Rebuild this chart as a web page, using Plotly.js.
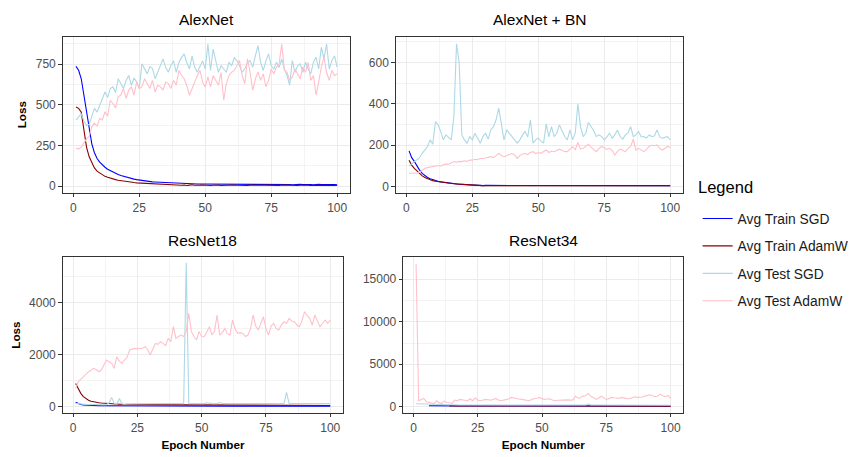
<!DOCTYPE html>
<html><head><meta charset="utf-8">
<script src="https://cdn.plot.ly/plotly-3.0.1.min.js"></script>
<style>html,body{margin:0;padding:0;background:#fff}#chart{width:854px;height:457px}</style>
</head><body><div id="chart"></div>
<script>
const epochs = [1,2,3,4,5,6,7,8,9,10,11,12,13,14,15,16,17,18,19,20,
21,22,23,24,25,26,27,28,29,30,31,32,33,34,35,36,37,38,39,40,
41,42,43,44,45,46,47,48,49,50,51,52,53,54,55,56,57,58,59,60,
61,62,63,64,65,66,67,68,69,70,71,72,73,74,75,76,77,78,79,80,
81,82,83,84,85,86,87,88,89,90,91,92,93,94,95,96,97,98,99,100];

const panelTitles = ["AlexNet", "AlexNet + BN", "ResNet18", "ResNet34"];
const seriesNames = ["Avg Train SGD", "Avg Train AdamW", "Avg Test SGD", "Avg Test AdamW"];
const legendTitle = "Legend";

// AlexNet
const alexTrainSGD = [736,712,660,560,440,340,260,205,170,148,
130,116,104,95,86,78,71,65,60,55,
51,47,43,40,37,34,32,30,28,26,
25,24,23,22,21,20,19,18,18,17,
16,16,15,15,14,14,13,13,13,12,
12,11,12,10,11,12,10,9,11,10,
12,10,9,11,10,9,10,12,11,9,
10,11,9,10,12,13,11,10,9,10,
11,9,8,10,12,11,9,10,11,9,
8,10,11,9,10,11,9,10,9,8];
const alexTrainAdamW = [486,478,455,340,240,180,140,112,92,80,
70,60,54,48,44,40,36,33,30,28,
26,24,22,20,19,18,16,15,14,13,
13,12,11,11,10,10,9,9,8,6,
5,7,4,6,8,5,4,6,7,5,
6,4,5,7,6,4,5,6,4,5,
7,5,4,6,5,4,6,5,7,6,
4,5,6,5,4,6,5,4,7,6,
5,4,6,5,4,5,6,4,5,4,
5,6,4,5,4,6,5,4,5,4];
const alexTestSGD = [406,427,445,400,372,380,430,478,455,500,
540,579,545,600,610,575,660,630,600,650,
680,620,665,640,600,752,720,690,735,722,
660,700,740,782,730,700,742,770,700,760,
790,813,760,720,800,732,700,740,770,720,
874,711,843,770,700,740,721,700,762,740,
790,772,740,700,721,760,772,730,800,864,
760,711,770,813,740,720,762,730,780,721,
680,620,772,700,740,752,700,762,720,691,
760,793,720,854,782,874,720,772,800,732];
const alexTestAdamW = [234,228,240,264,290,305,366,386,370,417,
407,457,430,528,508,480,549,560,600,540,
589,610,560,640,600,610,660,630,600,650,
579,620,610,590,640,630,600,650,620,711,
680,660,620,559,600,650,680,711,640,610,
671,610,680,650,620,700,528,630,680,700,
711,740,772,680,630,782,700,589,660,700,
650,690,610,650,720,691,730,752,874,711,
700,650,670,720,691,660,732,700,760,650,
680,559,640,732,793,700,650,711,680,691];

// AlexNet + BN
const bnTrainSGD = [173,140,122,100,80,64,52,44,38,33,
29,26,23,21,20,19,18,14,13,12,
11,10,10,9,9,6,6,6,5,6,
6,5,6,6,5,6,5,6,6,5,
5,6,6,5,6,5,6,5,6,6,
6,5,6,6,5,6,5,6,6,5,
5,6,6,5,6,5,6,5,6,6,
6,5,6,6,5,6,5,6,6,5,
5,6,6,5,6,5,6,5,6,6,
6,5,6,6,5,6,5,6,6,5];
const bnTrainAdamW = [128,104,88,75,60,52,44,38,33,29,
26,24,21,19,18,17,16,14,13,12,
12,11,11,7,6,5,5,5,5,5,
5,5,5,5,5,5,5,5,5,5,
5,5,5,5,5,5,5,5,5,5,
5,5,5,5,5,5,5,5,5,5,
5,5,5,5,5,5,5,5,5,5,
5,5,5,5,5,5,5,5,5,5,
5,5,5,5,5,5,5,5,5,5,
5,5,5,5,5,5,5,5,5,5];
const bnTestSGD = [100,110,120,129,140,161,180,194,226,205,
314,300,266,226,250,240,226,339,690,600,
250,226,210,242,226,258,230,210,242,258,
230,274,290,323,379,290,226,274,258,242,
230,210,226,250,266,240,323,210,226,234,
220,210,303,240,290,242,258,298,270,242,
226,274,226,258,400,290,242,258,310,290,
270,242,250,242,226,240,258,234,250,274,
242,230,250,260,290,242,250,266,240,242,
235,250,242,245,274,240,234,238,242,226];
const bnTestAdamW = [65,65,66,65,70,80,89,92,95,97,
100,102,100,105,110,108,115,121,118,122,
121,125,122,129,128,132,130,137,135,140,
142,145,140,150,161,150,145,150,155,160,
153,137,150,158,160,155,165,169,160,165,
161,170,177,165,172,169,175,181,175,170,
169,180,194,178,213,181,185,195,205,190,
180,169,185,194,188,180,185,175,153,170,
181,175,169,185,194,229,177,185,175,169,
180,194,200,198,202,185,177,185,194,189];

// ResNet18
const r18TrainSGD = [167,110,85,70,60,50,45,40,38,36,
35,34,33,32,31,30,30,29,29,28,
28,28,27,27,27,26,26,26,26,25,
25,26,25,25,24,25,25,24,25,24,
24,25,24,24,23,24,24,23,24,23,
23,24,23,23,22,23,23,22,23,22,
22,23,22,22,21,22,22,21,22,21,
21,22,21,21,20,21,21,20,21,20,
20,21,20,20,19,20,20,19,20,19,
19,20,19,19,18,19,19,18,19,18];
const r18TrainAdamW = [897,705,513,385,300,250,210,185,165,150,
140,130,120,115,110,105,100,96,92,90,
88,86,85,84,83,82,81,80,79,78,
78,77,76,76,75,75,74,74,73,73,
72,72,71,70,70,70,69,69,68,68,
67,67,66,66,65,65,64,64,63,63,
62,62,61,61,60,60,59,59,58,58,
57,57,56,56,55,55,55,54,54,54,
53,53,53,52,52,52,51,51,51,50,
50,50,49,49,49,48,48,48,47,47];
const r18TestSGD = [128,110,100,95,90,85,82,80,78,76,
75,74,80,150,359,128,100,320,110,95,
110,112,115,116,118,120,118,119,117,120,
118,119,121,118,120,119,118,121,120,119,
118,120,119,5540,120,120,118,122,120,125,
118,150,122,120,121,119,160,122,120,118,
121,119,124,135,122,120,118,121,119,120,
125,122,120,118,121,122,119,120,123,121,
122,120,551,125,121,119,118,120,122,119,
121,130,122,120,118,121,119,122,120,118];
const r18TestAdamW = [705,962,1050,1154,1250,1346,1400,1474,1420,1346,
1410,1600,1795,1720,1667,1474,1923,1750,1667,1795,
1900,2179,2200,2244,2230,2244,2250,2308,2200,1987,
2250,2436,2400,2500,2436,2350,2628,2500,3077,2628,
2700,2756,2700,2885,3590,2885,2700,2564,2885,2700,
2692,2900,3077,2756,2900,3526,2756,2850,3013,2800,
2756,3333,3000,2820,2850,2820,2700,2756,3000,3526,
3100,2949,3200,3462,3000,2756,3100,3205,3000,2949,
3150,3269,3200,3397,3300,3269,3150,3077,3300,3654,
3500,3397,3141,3526,3300,3077,3200,3333,3205,3333];

// ResNet34 (train curves not visible before epochs 6 / 14)
const r34TrainSGD = [null,null,null,null,null,120,110,105,100,98,
96,95,94,93,92,91,90,90,89,89,
88,88,88,87,87,87,86,86,86,86,
85,85,85,85,84,84,84,84,84,83,
83,83,83,83,82,82,82,82,82,82,
81,81,81,81,81,81,80,80,80,80,
80,80,80,79,79,79,79,79,79,79,
78,78,78,78,78,78,78,78,77,77,
77,77,77,77,77,77,76,76,76,76,
76,76,76,76,76,75,75,75,75,75];
const r34TrainAdamW = [null,null,null,null,null,null,null,null,null,null,
null,null,null,95,93,92,90,89,88,88,
87,87,86,86,86,85,85,85,85,84,
84,84,84,83,83,83,83,83,82,82,
82,82,82,81,81,81,81,81,80,80,
80,80,80,80,79,79,79,79,79,79,
78,78,78,78,78,78,77,77,77,77,
77,77,77,76,76,76,76,76,76,76,
75,75,75,75,75,75,75,75,74,74,
74,74,74,74,74,74,73,73,73,73];
const r34TestSGD = [350,340,345,350,345,330,250,230,220,210,
205,200,210,205,200,198,202,200,205,200,
198,202,200,196,201,199,203,200,198,201,
199,200,202,198,200,201,199,197,200,202,
200,198,201,199,200,202,198,200,199,201,
200,198,202,199,200,201,198,200,199,202,
200,198,201,199,200,202,198,320,200,199,
198,200,197,199,196,198,195,197,194,196,
193,195,192,194,191,193,190,192,189,191,
188,190,187,189,186,188,185,187,184,180];
const r34TestAdamW = [16800,700,860,977,586,469,420,390,703,450,
390,664,500,469,390,781,700,860,800,781,
700,938,703,1016,800,703,780,860,820,781,
850,977,800,703,780,860,900,1094,1000,938,
900,860,800,750,703,850,977,1000,1094,950,
860,900,938,800,703,760,781,820,860,800,
781,800,1250,1000,1094,1250,1300,1563,1200,1094,
860,1000,1250,1050,860,950,1094,1050,1016,980,
1094,1000,950,938,1050,1172,1100,1094,1150,1250,
1350,1406,1300,1172,1250,1484,1300,1172,1328,977];

const panelSeries = [
  [alexTrainSGD, alexTrainAdamW, alexTestSGD, alexTestAdamW],
  [bnTrainSGD, bnTrainAdamW, bnTestSGD, bnTestAdamW],
  [r18TrainSGD, r18TrainAdamW, r18TestSGD, r18TestAdamW],
  [r34TrainSGD, r34TrainAdamW, r34TestSGD, r34TestAdamW]
];
const seriesColors = ["#0000FF", "#8B0000", "#ADD8E6", "#FFC0CB"];

const FONT = "Liberation Sans, Arial, sans-serif";
const traces = [];
panelSeries.forEach((series, p) => {
  series.forEach((vals, s) => {
    const t = {
      type: "scatter", mode: "lines",
      x: epochs, y: vals,
      name: seriesNames[s],
      showlegend: p === 0,
      xaxis: p === 0 ? "x" : "x" + (p + 1),
      yaxis: p === 0 ? "y" : "y" + (p + 1),
      line: {color: seriesColors[s], width: 1.1},
      hoverinfo: "x+y+name"
    };
    if (p === 0) t.legendgroup = "g" + s;
    traces.push(t);
  });
});

function xAxis(domain, anchor, withTitle) {
  const a = {
    domain: domain, anchor: anchor, range: [-3.95, 104.95],
    tickmode: "linear", tick0: 0, dtick: 25,
    showline: true, mirror: true, linecolor: "#333333", linewidth: 1,
    ticks: "outside", ticklen: 3.7, tickwidth: 1, tickcolor: "#333333",
    showgrid: true, gridcolor: "#EBEBEB", gridwidth: 1, zeroline: false,
    minor: {tickmode: "linear", dtick: 12.5, tick0: 0, showgrid: true, gridcolor: "#F3F3F3", gridwidth: 1, ticks: ""},
    tickfont: {family: FONT, size: 12, color: "#4D4D4D"}
  };
  if (withTitle) a.title = {text: "Epoch Number", font: {family: FONT, size: 11.7, color: "#000", weight: "bold"}, standoff: 6};
  return a;
}
function yAxis(domain, anchor, range, dtick, withTitle) {
  const a = {
    domain: domain, anchor: anchor, range: range,
    tickmode: "linear", dtick: dtick, tick0: 0, tickformat: "d",
    showline: true, mirror: true, linecolor: "#333333", linewidth: 1,
    ticks: "outside", ticklen: 3.7, tickwidth: 1, tickcolor: "#333333",
    showgrid: true, gridcolor: "#EBEBEB", gridwidth: 1, zeroline: false,
    minor: {tickmode: "linear", dtick: dtick / 2, tick0: 0, showgrid: true, gridcolor: "#F3F3F3", gridwidth: 1, ticks: ""},
    tickfont: {family: FONT, size: 12, color: "#4D4D4D"}
  };
  if (withTitle) a.title = {text: "Loss", font: {family: FONT, size: 11.7, color: "#000", weight: "bold"}, standoff: 6};
  return a;
}

const topY = [0.5783, 0.9197], botY = [0.0969, 0.4370];
const annBase = {xref: "paper", yref: "paper", xanchor: "center", yanchor: "middle", showarrow: false};
const layout = {
  width: 854, height: 457,
  margin: {l: 0, r: 0, t: 0, b: 0},
  paper_bgcolor: "#fff", plot_bgcolor: "#fff",
  font: {family: FONT, color: "#000"},
  showlegend: true,
  xaxis: xAxis([0.0741, 0.4125], "y", false),
  yaxis: yAxis(topY, "x", [-40.6, 918.6], 250, true),
  xaxis2: xAxis([0.4664, 0.8048], "y2", false),
  yaxis2: yAxis(topY, "x2", [-29.25, 724.25], 200, false),
  xaxis3: xAxis([0.0741, 0.4040], "y3", true),
  yaxis3: yAxis(botY, "x3", [-231, 5746], 2000, true),
  xaxis4: xAxis([0.4751, 0.8048], "y4", true),
  yaxis4: yAxis(botY, "x4", [-706, 17590], 5000, false),
  legend: {
    x: 0.8217, xanchor: "left", y: 0.5558, yanchor: "top",
    font: {family: FONT, size: 13.8, color: "#1a1a1a"},
    itemwidth: 30, traceorder: "grouped", tracegroupgap: 6.5,
    bgcolor: "rgba(0,0,0,0)"
  },
  annotations: [
    Object.assign({text: panelTitles[0], x: 0.2433, y: 0.9571, font: {family: FONT, size: 15.5, color: "#000"}}, annBase),
    Object.assign({text: panelTitles[1], x: 0.6356, y: 0.9571, font: {family: FONT, size: 15.5, color: "#000"}}, annBase),
    Object.assign({text: panelTitles[2], x: 0.2391, y: 0.4735, font: {family: FONT, size: 15.5, color: "#000"}}, annBase),
    Object.assign({text: panelTitles[3], x: 0.6399, y: 0.4735, font: {family: FONT, size: 15.5, color: "#000"}}, annBase),
    Object.assign({text: legendTitle, x: 0.8200, y: 0.5904, font: {family: FONT, size: 16.5, color: "#000"}}, annBase, {xanchor: "left"})
  ]
};

Plotly.newPlot("chart", traces, layout, {staticPlot: true, displayModeBar: false});
</script>
</body></html>
